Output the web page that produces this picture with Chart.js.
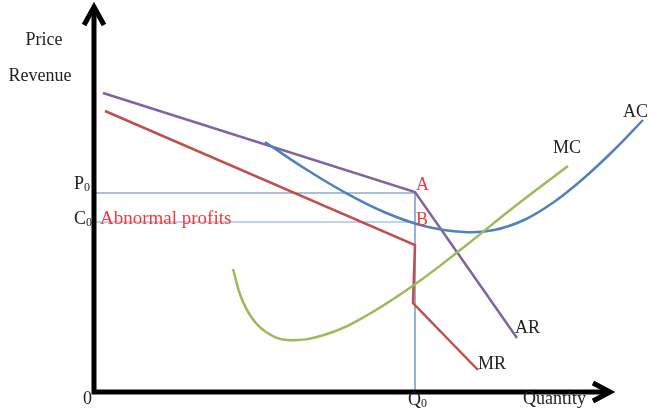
<!DOCTYPE html>
<html>
<head>
<meta charset="utf-8">
<script src="https://cdn.jsdelivr.net/npm/chart.js@4"></script>
<style>
  html, body { margin: 0; padding: 0; background: #fff; }
  #wrap { width: 667px; height: 416px; }
</style>
</head>
<body>
<div id="wrap"><canvas id="myChart" width="667" height="416"></canvas></div>
<script>
// Кривые спроса и затрат (единицы: количество по X, цена по Y)
const arPoints = [[9, 299], [321, 200], [423, 54]];
const mrPoints = [[11, 281], [321, 147], [319, 89], [384, 22]];
const acPoints = [[171, 250], [210, 224], [250, 200], [290, 180], [330, 166], [370, 160],
                  [400, 162], [430, 172], [460, 190], [490, 214], [520, 242], [549, 272]];
const mcPoints = [[139, 123], [147, 95], [158, 74], [172, 60], [193, 52], [230, 57],
                  [270, 75], [320, 107], [370, 145], [420, 185], [474, 226]];

// Уровни P0, C0 и объём Q0
const p0 = 199;
const c0 = 170;
const q0 = 321;

// Подписи: текст, индекс, x, y, выравнивание, цвет, размер
const labels = [
  ['Price', '', -50, 352, 'center', '#222', 18],
  ['Revenue', '', -54, 316, 'center', '#222', 18],
  ['P', '0', -20, 208, 'left', '#222', 18],
  ['C', '0', -20, 173, 'left', '#222', 18],
  ['Abnormal profits', '', 6, 173, 'left', '#f03c3c', 19],
  ['A', '', 322, 207, 'left', '#f03c3c', 18],
  ['B', '', 322, 172, 'left', '#f03c3c', 18],
  ['AR', '', 421, 64, 'left', '#222', 18],
  ['MR', '', 384, 28, 'left', '#222', 18],
  ['MC', '', 459, 244, 'left', '#222', 18],
  ['AC', '', 529, 280, 'left', '#222', 18],
  ['Q', '0', 314, -8, 'left', '#222', 18],
  ['Quantity', '', 429, -7, 'left', '#222', 18],
  ['0', '', -11, -7, 'left', '#222', 18]
];

const toXY = arr => arr.map(p => ({ x: p[0], y: p[1] }));

// Оси со стрелками и подписи рисуются плагином через шкалы
const diagramPlugin = {
  id: 'diagram',
  beforeDatasetsDraw(chart) {
    const ctx = chart.ctx;
    const sx = chart.scales.x, sy = chart.scales.y;
    ctx.save();
    // направляющие P0 / Q0
    ctx.strokeStyle = '#4f81bd';
    ctx.lineWidth = 1.2;
    ctx.beginPath();
    ctx.moveTo(sx.getPixelForValue(0), sy.getPixelForValue(p0));
    ctx.lineTo(sx.getPixelForValue(q0), sy.getPixelForValue(p0));
    ctx.lineTo(sx.getPixelForValue(q0), sy.getPixelForValue(0));
    ctx.stroke();
    // C0
    ctx.strokeStyle = '#a7c4e4';
    ctx.lineWidth = 1.5;
    ctx.beginPath();
    ctx.moveTo(sx.getPixelForValue(0), sy.getPixelForValue(c0));
    ctx.lineTo(sx.getPixelForValue(q0), sy.getPixelForValue(c0));
    ctx.stroke();
    ctx.restore();
  },
  afterDatasetsDraw(chart) {
    const ctx = chart.ctx;
    const sx = chart.scales.x, sy = chart.scales.y;
    const ox = sx.getPixelForValue(0), oy = sy.getPixelForValue(0);
    const tipY = sy.getPixelForValue(385);
    const tipX = sx.getPixelForValue(516);
    ctx.save();
    ctx.strokeStyle = '#000';
    ctx.lineWidth = 5;
    ctx.lineJoin = 'miter';
    ctx.beginPath();
    ctx.moveTo(ox, tipY + 2);
    ctx.lineTo(ox, oy);
    ctx.lineTo(tipX - 2, oy);
    ctx.stroke();
    ctx.beginPath();
    ctx.moveTo(ox - 10, tipY + 18);
    ctx.lineTo(ox, tipY);
    ctx.lineTo(ox + 10, tipY + 18);
    ctx.stroke();
    ctx.beginPath();
    ctx.moveTo(tipX - 17, oy - 9);
    ctx.lineTo(tipX, oy);
    ctx.lineTo(tipX - 17, oy + 9);
    ctx.stroke();

    ctx.textBaseline = 'middle';
    labels.forEach(([text, sub, x, y, align, color, size]) => {
      const px = sx.getPixelForValue(x), py = sy.getPixelForValue(y);
      ctx.fillStyle = color;
      ctx.font = size + 'px "Liberation Serif", serif';
      ctx.textAlign = align;
      ctx.fillText(text, px, py);
      if (sub) {
        const w = ctx.measureText(text).width;
        ctx.font = '12px "Liberation Serif", serif';
        ctx.textAlign = 'left';
        ctx.fillText(sub, px + w, py + 4);
      }
    });
    ctx.restore();
  }
};

function createDiagram() {
  const line = (data, color, smooth) => ({
    data: toXY(data),
    borderColor: color,
    borderWidth: 2.5,
    showLine: true,
    pointRadius: 0,
    fill: false,
    clip: false,
    tension: smooth ? 0.4 : 0
  });
  const config = {
    type: 'scatter',
    data: {
      datasets: [
        line(mcPoints, '#9bbb59', true),
        line(acPoints, '#4f81bd', true),
        line(mrPoints, '#c0504d', false),
        line(arPoints, '#8064a2', false)
      ]
    },
    options: {
      responsive: false,
      animation: false,
      devicePixelRatio: 1,
      layout: { padding: { left: 94, right: 7, top: 10, bottom: 24 } },
      plugins: { legend: { display: false }, tooltip: { enabled: false } },
      scales: {
        x: { type: 'linear', min: 0, max: 566, display: false },
        y: { type: 'linear', min: 0, max: 382, display: false }
      }
    },
    plugins: [diagramPlugin]
  };
  return new Chart(document.getElementById('myChart'), config);
}

createDiagram();
</script>
</body>
</html>
